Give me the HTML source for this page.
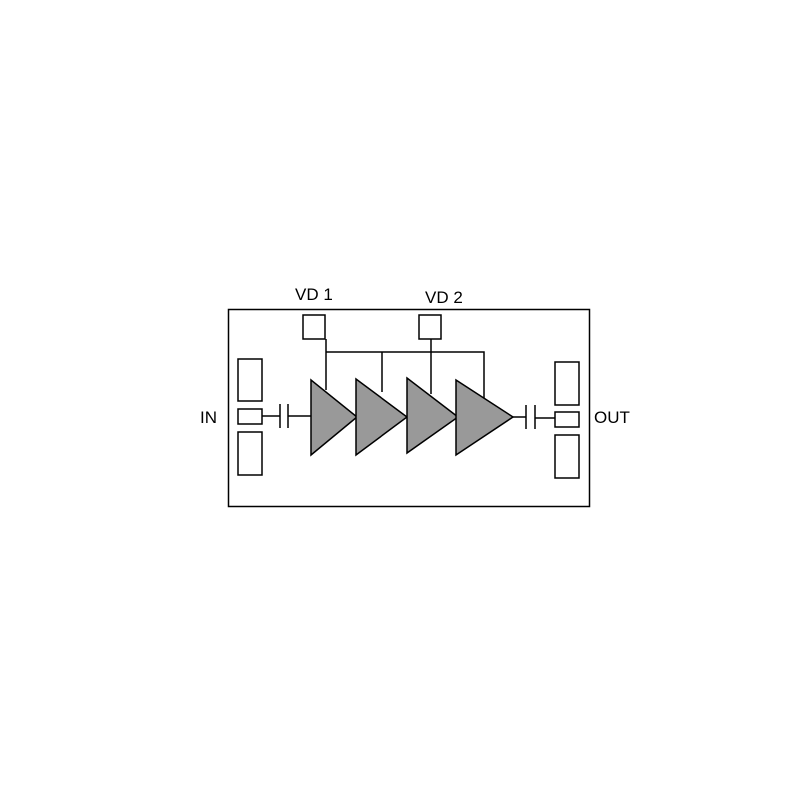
<!DOCTYPE html>
<html><head><style>body{margin:0;background:#fff}</style></head><body>
<svg width="800" height="800" xmlns="http://www.w3.org/2000/svg" font-family="Liberation Sans, sans-serif" font-size="17">
<g fill="none" stroke="#000" stroke-width="1.5">
<rect x="228.5" y="309.5" width="361" height="197"/>
<rect x="238" y="359" width="24" height="42"/>
<rect x="238" y="409" width="24" height="15"/>
<rect x="238" y="432" width="24" height="43"/>
<rect x="555" y="362" width="24" height="43"/>
<rect x="555" y="412" width="24" height="15"/>
<rect x="555" y="435" width="24" height="43"/>
<rect x="303" y="315" width="22" height="24"/>
<rect x="419" y="315" width="22" height="24"/>
<path d="M262 416H280M280 404V428M288 404V428M288 416H311"/>
<path d="M513 417H526M526 405V429M535 405V429M535 418H555"/>
<path d="M326 339V390M326 352H484V398M382 352V392M431 339V394"/>
</g>
<g fill="#999" stroke="#000" stroke-width="1.5">
<polygon points="311,380 357,417 311,455"/>
<polygon points="356,379 407,417 356,455"/>
<polygon points="407,378 458,417 407,453"/>
<polygon points="456,380 513,417 456,455"/>
</g>
<text x="295" y="300">VD 1</text>
<text x="425" y="303">VD 2</text>
<text x="200" y="423">IN</text>
<text x="594" y="423">OUT</text>
</svg>
</body></html>
